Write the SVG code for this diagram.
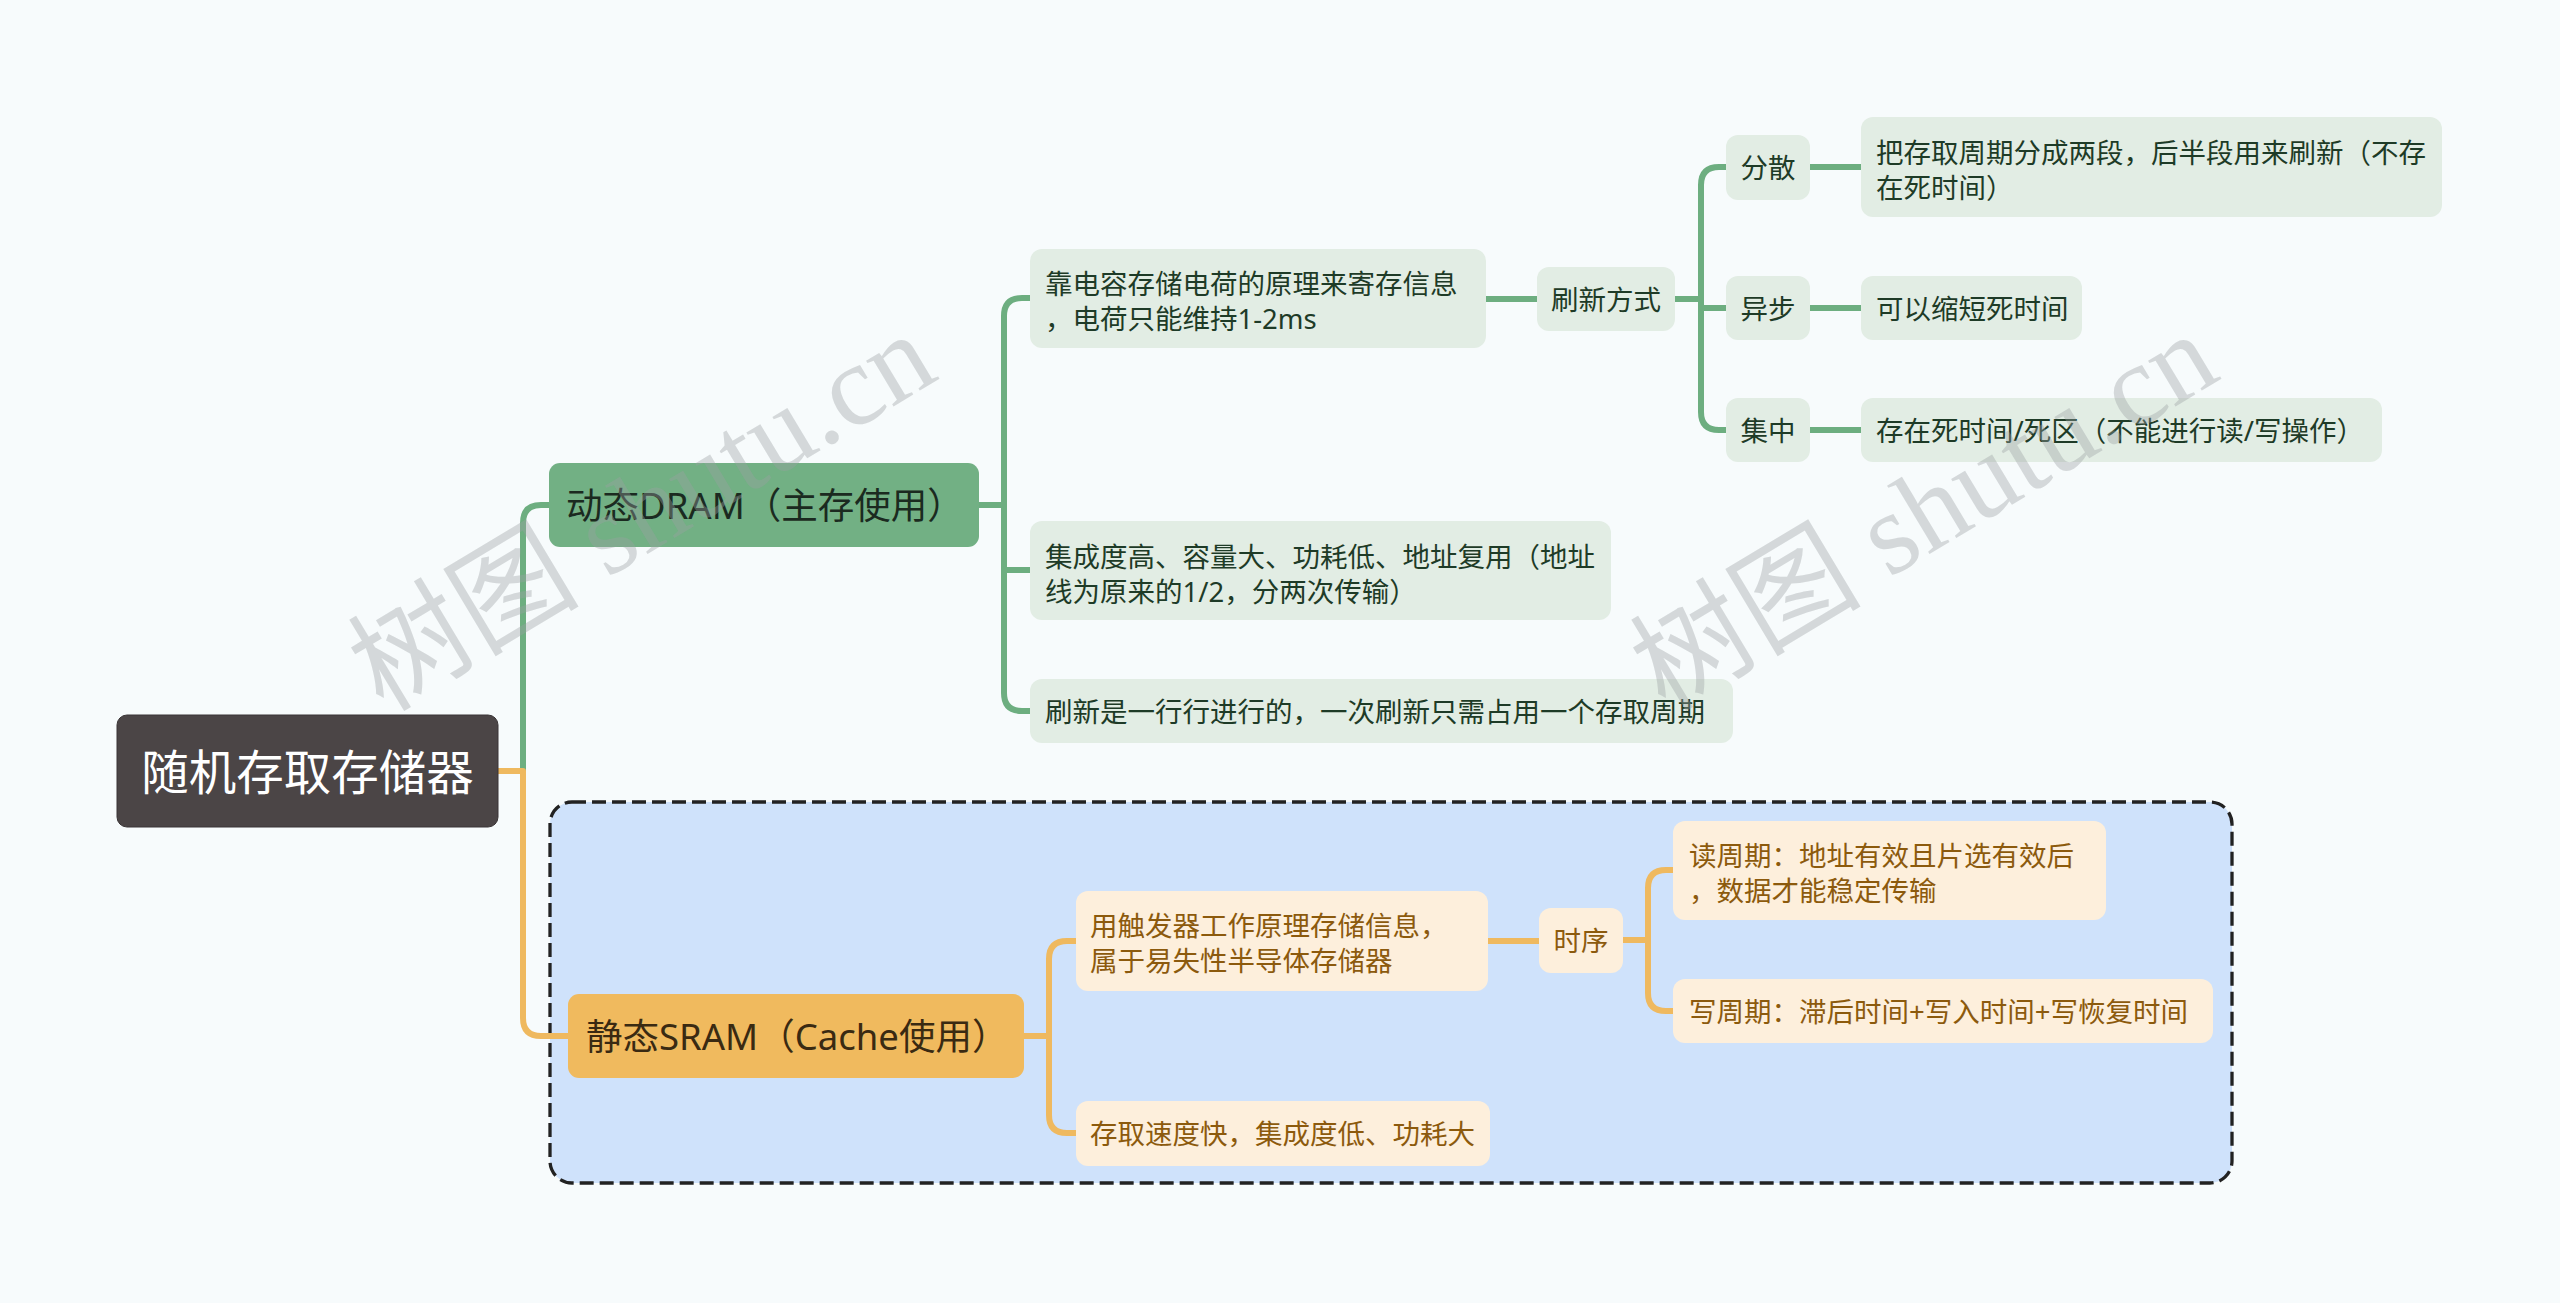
<svg xmlns="http://www.w3.org/2000/svg" width="2560" height="1303" viewBox="0 0 2560 1303">
<defs>
<style>
text{font-family:"Noto Sans","Noto Sans CJK SC",sans-serif;}
.g{fill:none;stroke:#6dae80;stroke-width:6;stroke-linecap:butt;stroke-linejoin:round;}
.o{fill:none;stroke:#efb95f;stroke-width:6;stroke-linecap:butt;stroke-linejoin:round;}
.gc{fill:#e2ede4;}
.oc{fill:#fdefdc;}
.gt{fill:#1e3b27;font-size:27.5px;}
.ot{fill:#8c5a0d;font-size:27.5px;}
.wm{fill:#9aa0a3;fill-opacity:0.38;font-size:116px;font-family:"Liberation Serif","Noto Sans CJK SC",serif;}
</style>
</defs>
<rect x="0" y="0" width="2560" height="1303" fill="#f7fbfc"/>
<rect x="550" y="802" width="1682" height="381" rx="22" fill="#cfe2fb" stroke="#222" stroke-width="3.3" stroke-dasharray="14 6"/>
<g id="connectors">
<path class="g" d="M523 771 V523 Q523 505 541 505 H551"/>
<path class="o" d="M496 771 H523 V1018 Q523 1036 541 1036 H570"/>
<path class="g" d="M977 505 H1004"/>
<path class="g" d="M1004 505 V316 Q1004 298 1022 298 H1032"/>
<path class="g" d="M1004 505 V693 Q1004 711 1022 711 H1032"/>
<path class="g" d="M1004 570 H1032"/>
<path class="g" d="M1484 299 H1539"/>
<path class="g" d="M1673 299 H1701"/>
<path class="g" d="M1701 299 V185 Q1701 167 1719 167 H1728"/>
<path class="g" d="M1701 299 V412 Q1701 430 1719 430 H1728"/>
<path class="g" d="M1701 308 H1728"/>
<path class="g" d="M1808 167 H1863"/>
<path class="g" d="M1808 308 H1863"/>
<path class="g" d="M1808 430 H1863"/>
<path class="o" d="M1022 1036 H1049"/>
<path class="o" d="M1049 1036 V959 Q1049 941 1067 941 H1078"/>
<path class="o" d="M1049 1036 V1115 Q1049 1133 1067 1133 H1078"/>
<path class="o" d="M1486 941 H1541"/>
<path class="o" d="M1621 940 H1648"/>
<path class="o" d="M1648 940 V888 Q1648 870 1666 870 H1675"/>
<path class="o" d="M1648 940 V993 Q1648 1011 1666 1011 H1675"/>
</g>
<g id="root">
<rect x="117" y="715" width="381" height="112" rx="10" fill="#4b4546" stroke="#3a3536" stroke-width="1"/>
<text x="307.5" y="771" font-size="47.5" fill="#ffffff" text-anchor="middle" dominant-baseline="central">随机存取存储器</text>
</g>
<g id="dram">
<rect x="549" y="463" width="430" height="84" rx="11" fill="#72b084"/>
<text x="566" y="505" font-size="36.5" fill="#1b2a20" dominant-baseline="central">动态DRAM（主存使用）</text>
</g>
<g id="dram-c1">
<rect class="gc" x="1030" y="249" width="456" height="99" rx="12"/>
<text class="gt" x="1045" y="283" dominant-baseline="central">靠电容存储电荷的原理来寄存信息</text>
<text class="gt" x="1045" y="318" dominant-baseline="central">，电荷只能维持1-2ms</text>
</g>
<g id="refresh">
<rect class="gc" x="1537" y="267" width="138" height="64" rx="12"/>
<text class="gt" x="1606" y="299" text-anchor="middle" dominant-baseline="central">刷新方式</text>
</g>
<g id="r1">
<rect class="gc" x="1726" y="135" width="84" height="65" rx="12"/>
<text class="gt" x="1768" y="167" text-anchor="middle" dominant-baseline="central">分散</text>
</g>
<g id="r2">
<rect class="gc" x="1726" y="276" width="84" height="64" rx="12"/>
<text class="gt" x="1768" y="308" text-anchor="middle" dominant-baseline="central">异步</text>
</g>
<g id="r3">
<rect class="gc" x="1726" y="398" width="84" height="64" rx="12"/>
<text class="gt" x="1768" y="430" text-anchor="middle" dominant-baseline="central">集中</text>
</g>
<g id="r1d">
<rect class="gc" x="1861" y="117" width="581" height="100" rx="12"/>
<text class="gt" x="1876" y="152" dominant-baseline="central">把存取周期分成两段，后半段用来刷新（不存</text>
<text class="gt" x="1876" y="187" dominant-baseline="central">在死时间）</text>
</g>
<g id="r2d">
<rect class="gc" x="1861" y="276" width="221" height="64" rx="12"/>
<text class="gt" x="1876" y="308" dominant-baseline="central">可以缩短死时间</text>
</g>
<g id="r3d">
<rect class="gc" x="1861" y="398" width="521" height="64" rx="12"/>
<text class="gt" x="1876" y="430" dominant-baseline="central">存在死时间/死区（不能进行读/写操作）</text>
</g>
<g id="dram-c2">
<rect class="gc" x="1030" y="521" width="581" height="99" rx="12"/>
<text class="gt" x="1045" y="556" dominant-baseline="central">集成度高、容量大、功耗低、地址复用（地址</text>
<text class="gt" x="1045" y="591" dominant-baseline="central">线为原来的1/2，分两次传输）</text>
</g>
<g id="dram-c3">
<rect class="gc" x="1030" y="679" width="703" height="64" rx="12"/>
<text class="gt" x="1045" y="711" dominant-baseline="central">刷新是一行行进行的，一次刷新只需占用一个存取周期</text>
</g>
<g id="sram">
<rect x="568" y="994" width="456" height="84" rx="11" fill="#f0ba5e"/>
<text x="586" y="1036" font-size="36.5" fill="#3a2a12" dominant-baseline="central">静态SRAM（Cache使用）</text>
</g>
<g id="sram-c1">
<rect class="oc" x="1076" y="891" width="412" height="100" rx="12"/>
<text class="ot" x="1090" y="925" dominant-baseline="central">用触发器工作原理存储信息，</text>
<text class="ot" x="1090" y="960" dominant-baseline="central">属于易失性半导体存储器</text>
</g>
<g id="timing">
<rect class="oc" x="1539" y="908" width="84" height="65" rx="12"/>
<text class="ot" x="1581" y="940" text-anchor="middle" dominant-baseline="central">时序</text>
</g>
<g id="read">
<rect class="oc" x="1673" y="821" width="433" height="99" rx="12"/>
<text class="ot" x="1689" y="855" dominant-baseline="central">读周期：地址有效且片选有效后</text>
<text class="ot" x="1689" y="890" dominant-baseline="central">，数据才能稳定传输</text>
</g>
<g id="write">
<rect class="oc" x="1673" y="979" width="540" height="64" rx="12"/>
<text class="ot" x="1689" y="1011" dominant-baseline="central">写周期：滞后时间+写入时间+写恢复时间</text>
</g>
<g id="sram-c2">
<rect class="oc" x="1076" y="1101" width="414" height="65" rx="12"/>
<text class="ot" x="1090" y="1133" dominant-baseline="central">存取速度快，集成度低、功耗大</text>
</g>
<g id="watermark">
<text class="wm" x="0" y="0" text-anchor="middle" dominant-baseline="central" transform="translate(642 512) rotate(-31)">树图 shutu.cn</text>
<text class="wm" x="0" y="0" text-anchor="middle" dominant-baseline="central" transform="translate(1924 512) rotate(-31)">树图 shutu.cn</text>
</g>
</svg>
